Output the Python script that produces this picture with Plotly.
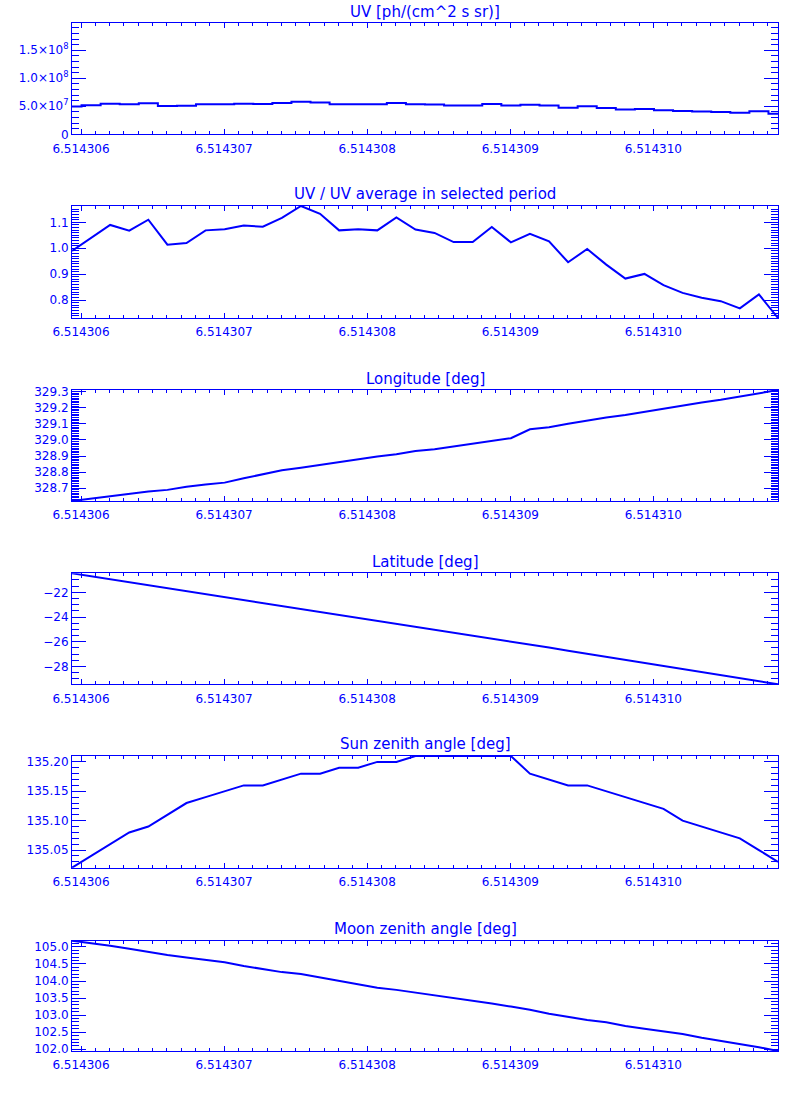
import plotly.graph_objects as go

# ---------------- data ----------------
time = [6.5143059371, 6.5143060705, 6.5143062038, 6.5143063372, 6.5143064705,
        6.5143066039, 6.5143067372, 6.5143068706, 6.5143070039, 6.5143071373,
        6.5143072706, 6.5143074040, 6.5143075373, 6.5143076707, 6.5143078040,
        6.5143079374, 6.5143080707, 6.5143082041, 6.5143083374, 6.5143084708,
        6.5143086041, 6.5143087375, 6.5143088708, 6.5143090042, 6.5143091375,
        6.5143092709, 6.5143094042, 6.5143095376, 6.5143096709, 6.5143098043,
        6.5143099376, 6.5143100710, 6.5143102043, 6.5143103377, 6.5143104710,
        6.5143106044, 6.5143107377, 6.5143108711]

uv = [4.95e7, 5.20e7, 5.45e7, 5.34e7, 5.55e7, 5.07e7, 5.10e7, 5.35e7, 5.37e7, 5.44e7,
      5.42e7, 5.59e7, 5.82e7, 5.67e7, 5.35e7, 5.37e7, 5.35e7, 5.60e7, 5.36e7, 5.30e7,
      5.12e7, 5.12e7, 5.41e7, 5.12e7, 5.28e7, 5.14e7, 4.73e7, 4.99e7, 4.69e7, 4.42e7,
      4.51e7, 4.29e7, 4.14e7, 4.05e7, 3.98e7, 3.84e7, 4.11e7, 3.66e7]

uv_ratio = [0.990, 1.040, 1.090, 1.068, 1.110, 1.014, 1.020, 1.069, 1.073, 1.088,
            1.083, 1.117, 1.163, 1.133, 1.069, 1.073, 1.069, 1.119, 1.072, 1.059,
            1.024, 1.024, 1.082, 1.023, 1.056, 1.027, 0.946, 0.997, 0.937, 0.883,
            0.901, 0.858, 0.828, 0.809, 0.796, 0.768, 0.822, 0.731]

longitude = [328.621, 328.636, 328.650, 328.669, 328.680, 328.690, 328.710, 328.723,
             328.735, 328.762, 328.788, 328.812, 328.828, 328.846, 328.865, 328.882,
             328.897, 328.911, 328.932, 328.942, 328.959, 328.980, 328.996, 329.011,
             329.066, 329.079, 329.100, 329.120, 329.139, 329.155, 329.174, 329.197,
             329.215, 329.232, 329.249, 329.269, 329.286, 329.310]

latitude = [-20.46, -20.70, -20.93, -21.17, -21.41, -21.65, -21.88, -22.12, -22.36,
            -22.59, -22.83, -23.07, -23.30, -23.54, -23.78, -24.02, -24.25, -24.49,
            -24.74, -24.99, -25.23, -25.48, -25.73, -25.98, -26.22, -26.47, -26.72,
            -26.97, -27.22, -27.46, -27.71, -27.96, -28.21, -28.45, -28.70, -28.95,
            -29.20, -29.44]

sun_zenith = [135.02, 135.04, 135.06, 135.08, 135.09, 135.11, 135.13, 135.14, 135.15,
              135.16, 135.16, 135.17, 135.18, 135.18, 135.19, 135.19, 135.20, 135.20,
              135.21, 135.21, 135.21, 135.21, 135.21, 135.21, 135.18, 135.17, 135.16,
              135.16, 135.15, 135.14, 135.13, 135.12, 135.10, 135.09, 135.08, 135.07,
              135.05, 135.03]

moon_zenith = [105.18, 105.11, 105.035, 104.947, 104.85, 104.76, 104.69, 104.615,
               104.547, 104.44, 104.35, 104.26, 104.205, 104.10, 104.00, 103.89,
               103.80, 103.74, 103.66, 103.59, 103.52, 103.43, 103.34, 103.25,
               103.16, 103.04, 102.94, 102.86, 102.79, 102.68, 102.60, 102.53,
               102.45, 102.34, 102.25, 102.16, 102.06, 101.95]

titles = ["UV [ph/(cm^2 s sr)]", "UV / UV average in selected period",
          "Longitude [deg]", "Latitude [deg]", "Sun zenith angle [deg]",
          "Moon zenith angle [deg]"]

x_tickvals = [6.514306, 6.514307, 6.514308, 6.514309, 6.514310]
x_ticktext = ["6.514306", "6.514307", "6.514308", "6.514309", "6.514310"]

uv_tickvals = [0, 5e7, 1e8, 1.5e8]
uv_ticktext = ["0", "5.0×10<sup>7</sup>", "1.0×10<sup>8</sup>", "1.5×10<sup>8</sup>"]
uv_axis_max = 1.98e8

# ---------------- styling ----------------
BLUE = "#0000ff"
W, H = 800, 1100
PX_L, PX_R = 72, 778
panel_px = [(23.3, 134.3), (206, 318), (390, 501), (573.3, 684.3), (756, 867.7), (940.7, 1051)]
FONT = "DejaVu Sans"

series = [uv, uv_ratio, longitude, latitude, sun_zenith, moon_zenith]
yspec = [
    dict(range=[0, uv_axis_max], tickmode="array", tickvals=uv_tickvals, ticktext=uv_ticktext,
         minor=dict(tickmode="linear", tick0=0, dtick=1e7)),
    dict(range=[min(uv_ratio), max(uv_ratio)], tickmode="linear", tick0=0, dtick=0.1,
         tickformat=".1f", minor=dict(tickmode="linear", tick0=0, dtick=0.01)),
    dict(range=[min(longitude), max(longitude)], tickmode="linear", tick0=0, dtick=0.1,
         tickformat=".1f", minor=dict(tickmode="linear", tick0=0, dtick=0.01)),
    dict(range=[min(latitude), max(latitude)], tickmode="linear", tick0=0, dtick=2,
         tickformat="d", minor=dict(tickmode="linear", tick0=0, dtick=0.5)),
    dict(range=[min(sun_zenith), max(sun_zenith)], tickmode="linear", tick0=0, dtick=0.05,
         tickformat=".2f", minor=dict(tickmode="linear", tick0=0, dtick=0.01)),
    dict(range=[min(moon_zenith), max(moon_zenith)], tickmode="linear", tick0=0, dtick=0.5,
         tickformat=".1f", minor=dict(tickmode="linear", tick0=0, dtick=0.1)),
]

fig = go.Figure()
layout = dict(width=W, height=H, margin=dict(l=0, r=0, t=0, b=0),
              paper_bgcolor="white", plot_bgcolor="white", showlegend=False,
              annotations=[])

for k in range(6):
    n = "" if k == 0 else str(k + 1)
    top, bot = panel_px[k]
    shape = "hvh" if k == 0 else "linear"
    fig.add_trace(go.Scatter(x=time, y=series[k], mode="lines",
                             line=dict(color=BLUE, width=2, shape=shape),
                             xaxis="x" + n, yaxis="y" + n, cliponaxis=True))
    common = dict(showline=True, linecolor=BLUE, linewidth=1, mirror="ticks",
                  ticks="inside", tickcolor=BLUE, tickwidth=1, showgrid=False,
                  zeroline=False, automargin=False,
                  tickfont=dict(family=FONT, size=12, color=BLUE))
    layout["xaxis" + n] = dict(common, domain=[PX_L / W, PX_R / W], anchor="y" + n,
                               range=[time[0], time[-1]], tickmode="array",
                               tickvals=x_tickvals, ticktext=x_ticktext, ticklen=5,
                               ticklabelstandoff=3,
                               minor=dict(tickmode="linear", tick0=6.514306, dtick=1e-7,
                                          ticklen=3, tickcolor=BLUE, tickwidth=1,
                                          showgrid=False, ticks="inside"))
    ys = dict(yspec[k])
    ys["minor"] = dict(ys["minor"], ticklen=7, tickcolor=BLUE, tickwidth=1,
                       showgrid=False, ticks="inside")
    layout["yaxis" + n] = dict(common, domain=[1 - bot / H, 1 - top / H], anchor="x" + n,
                               ticklen=14, **ys)
    layout["annotations"].append(dict(
        text=titles[k], x=(PX_L + PX_R) / 2 / W, y=1 - (top - 11.5) / H,
        xref="paper", yref="paper", xanchor="center", yanchor="middle",
        showarrow=False, font=dict(family=FONT, size=15, color=BLUE)))

fig.update_layout(**layout)
fig.write_html("out.html", config={"displayModeBar": False},
               post_script="document.body.style.margin='0';document.body.style.padding='0';")
